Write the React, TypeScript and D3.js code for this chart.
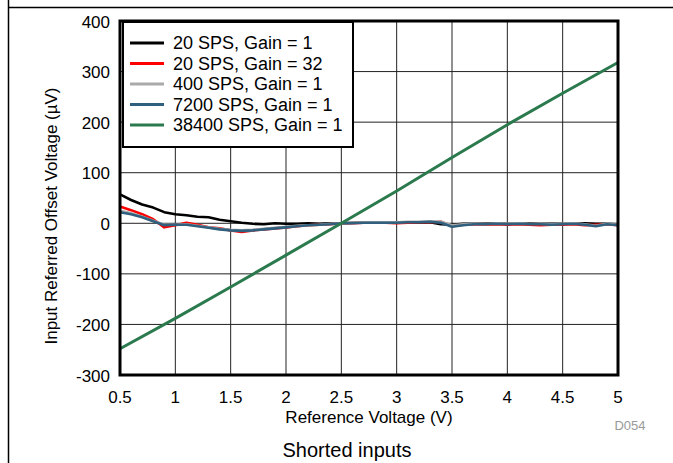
import React from "react";
import * as d3 from "d3";

const voltages = [0.5,0.6,0.7,0.8,0.9,1.0,1.1,1.2,1.3,1.4,1.5,1.6,1.7,1.8,1.9,2.0,2.1,2.2,2.3,2.4,2.5,2.6,2.7,2.8,2.9,3.0,3.1,3.2,3.3,3.4,3.5,3.6,3.7,3.8,3.9,4.0,4.1,4.2,4.3,4.4,4.5,4.6,4.7,4.8,4.9,5.0];
const sps20g1 = [57,46,37,31,22,18,16,13,12,7,4,1,-1,-2,0,-1,-1,0,-1,0,0,1,1,1,1,2,2,2,2,-2,-3,-1,-1,-1,0,-1,-1,0,-1,-1,-1,-1,0,-1,-1,-2];
const sps20g32 = [33,26,18,8,-8,-4,1,-3,-8,-10,-14,-17,-14,-12,-10,-8,-6,-4,-3,-2,0,0,1,1,1,0,1,2,2,3,-6,-3,-2,-3,-2,-3,-2,-3,-4,-3,-3,-2,-4,-3,-2,-4];
const sps400g1 = [25,20,13,5,-3,-3,-2,-5,-8,-11,-13,-14,-13,-11,-9,-7,-5,-4,-3,-1,0,1,2,2,2,2,3,3,4,3,-4,-2,-1,-2,0,-1,0,-1,-1,-2,-1,0,-2,-5,-1,-3];
const sps7200g1 = [22,18,12,4,-4,-3,-3,-6,-9,-12,-14,-15,-14,-12,-10,-8,-6,-4,-3,-2,0,0,1,1,1,1,2,2,3,1,-7,-4,-2,-2,-1,-2,-1,-2,-2,-3,-2,-1,-3,-6,-2,-4];
const greenVoltages = [0.5,1.0,1.5,2.0,2.5,3.0,3.5,4.0,4.5,5.0];
const sps38400g1 = [-248,-188,-126,-63,0,64,130,195,257,318];

const xTicks = [0.5,1,1.5,2,2.5,3,3.5,4,4.5,5];
const yTicks = [-300,-200,-100,0,100,200,300,400];

const seriesNames = ["20 SPS, Gain = 1","20 SPS, Gain = 32","400 SPS, Gain = 1","7200 SPS, Gain = 1","38400 SPS, Gain = 1"];
const seriesColors = ["#000000","#ff0000","#aaaaaa","#30607e","#2b7a4e"];

const FONT = "'Liberation Sans', Arial, sans-serif";

export default function App() {
  const left = 120, right = 618, top = 21, bottom = 375;
  const x = d3.scaleLinear().domain([0.5, 5]).range([left, right]);
  const y = d3.scaleLinear().domain([-300, 400]).range([bottom, top]);

  const series = [
    { xs: voltages, ys: sps20g1 },
    { xs: voltages, ys: sps20g32 },
    { xs: voltages, ys: sps400g1 },
    { xs: voltages, ys: sps7200g1 },
    { xs: greenVoltages, ys: sps38400g1 },
  ];
  const line = d3.line<[number, number]>().x(d => x(d[0])).y(d => y(d[1]));

  const legendX = 123, legendY = 22, legendW = 230, legendH = 125;
  const rowY = (i: number) => 43 + i * 20.5;

  return (
    <svg width={673} height={463} style={{ position: "absolute", left: 0, top: 0, background: "#fff" }} fontFamily={FONT}>
      <rect x={0} y={0} width={673} height={463} fill="#fff" />
      {/* page frame lines */}
      <line x1={8.5} y1={0} x2={8.5} y2={463} stroke="#000" strokeWidth={1.5} />
      <line x1={8} y1={7.5} x2={673} y2={7.5} stroke="#000" strokeWidth={1.5} />

      {/* grid */}
      {xTicks.map(t => (
        <line key={"gx" + t} x1={x(t)} x2={x(t)} y1={top} y2={bottom} stroke="#222" strokeWidth={1} />
      ))}
      {yTicks.map(t => (
        <line key={"gy" + t} x1={left} x2={right} y1={y(t)} y2={y(t)} stroke="#222" strokeWidth={1} />
      ))}

      {/* series */}
      {series.map((s, i) => (
        <path key={"s" + i}
          d={line(s.xs.map((v, j) => [v, s.ys[j]] as [number, number])) || ""}
          fill="none" stroke={seriesColors[i]} strokeWidth={i === 4 ? 3 : 2.6} strokeLinejoin="round" />
      ))}

      {/* plot frame */}
      <rect x={left} y={top} width={right - left} height={bottom - top} fill="none" stroke="#000" strokeWidth={3} />

      {/* legend */}
      <rect x={legendX} y={legendY} width={legendW} height={legendH} fill="#fff" stroke="#000" strokeWidth={2} />
      {seriesNames.map((n, i) => (
        <g key={"l" + i}>
          <line x1={130} x2={164} y1={rowY(i)} y2={rowY(i)} stroke={seriesColors[i]} strokeWidth={3} />
          <text x={173} y={rowY(i) + 6} fontSize={18} fill="#000">{n}</text>
        </g>
      ))}

      {/* tick labels */}
      {yTicks.map(t => (
        <text key={"ty" + t} x={110} y={y(t) + 6.5} fontSize={17} textAnchor="end" fill="#000">{t}</text>
      ))}
      {xTicks.map(t => (
        <text key={"tx" + t} x={x(t)} y={403} fontSize={17} textAnchor="middle" fill="#000">{t}</text>
      ))}

      {/* axis titles */}
      <text x={369} y={423} fontSize={17} textAnchor="middle" fill="#000">Reference Voltage (V)</text>
      <text transform={`translate(57, 216) rotate(-90)`} fontSize={17} textAnchor="middle" fill="#000">Input Referred Offset Voltage (µV)</text>
      <text x={630} y={430} fontSize={13} textAnchor="middle" fill="#999">D054</text>
      <text x={347} y={457} fontSize={20} textAnchor="middle" fill="#000">Shorted inputs</text>
    </svg>
  );
}
